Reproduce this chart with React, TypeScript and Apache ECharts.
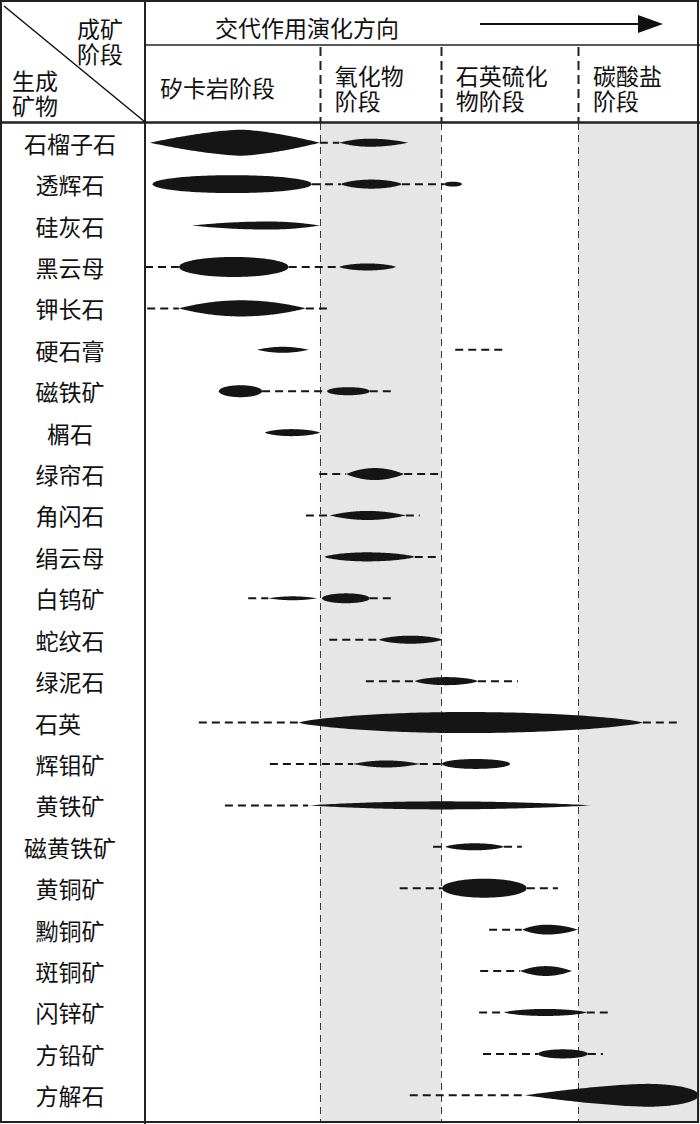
import React, { useEffect, useRef } from "react";
import * as echarts from "echarts";

// ---------- data ----------
const MINERALS = [
  "石榴子石", "透辉石", "硅灰石", "黑云母", "钾长石", "硬石膏", "磁铁矿", "榍石",
  "绿帘石", "角闪石", "绢云母", "白钨矿", "蛇纹石", "绿泥石", "石英", "辉钼矿",
  "黄铁矿", "磁黄铁矿", "黄铜矿", "黝铜矿", "斑铜矿", "闪锌矿", "方铅矿", "方解石",
];

const TITLE = "交代作用演化方向";
const CORNER_TOP = "成矿\n阶段";
const CORNER_BOTTOM = "生成\n矿物";

// stages along the evolution axis (0..100)
const STAGE_NAMES = ["矽卡岩阶段", "氧化物\n阶段", "石英硫化\n物阶段", "碳酸盐\n阶段"];
const STAGE_STARTS = [0, 31.5, 53.3, 78.0];
const STAGE_BOUNDS = [31.5, 53.3, 78.0];
const SHADED_STAGES = [[31.5, 53.3], [78.0, 100]];

// main occurrence lenses: [row, start, end, peak, abundance(0-10), leftShape, rightShape]
const LENSES: [number, number, number, number, number, string, string][] = [
  [0, 0.9, 31.5, 17.3, 10, "d", "d"],
  [0, 35.0, 47.4, 40.5, 3.1, "l", "l"],
  [1, 1.3, 30.1, 15.7, 6.9, "e", "e"],
  [1, 35.3, 46.3, 40.8, 3.5, "p", "p"],
  [1, 53.9, 57.1, 55.5, 1.9, "e", "e"],
  [2, 8.5, 31.5, 22.3, 3.1, "l", "l"],
  [3, 6.1, 25.9, 16.0, 7.7, "e", "e"],
  [3, 35.0, 45.2, 40.1, 2.7, "p", "p"],
  [4, 6.1, 29.0, 17.3, 6.2, "l", "l"],
  [5, 20.2, 29.5, 24.8, 2.3, "l", "l"],
  [6, 13.3, 21.1, 17.2, 4.6, "e", "e"],
  [6, 32.8, 40.5, 36.6, 3.1, "e", "e"],
  [7, 21.6, 31.5, 26.3, 2.7, "p", "p"],
  [8, 36.2, 46.7, 41.4, 4.6, "l", "l"],
  [9, 33.3, 47.0, 40.1, 3.5, "l", "l"],
  [10, 32.3, 48.6, 40.0, 3.5, "p", "p"],
  [11, 22.2, 31.0, 26.6, 1.5, "l", "l"],
  [11, 31.9, 40.5, 36.2, 3.8, "e", "e"],
  [12, 42.2, 53.5, 47.8, 3.1, "p", "p"],
  [13, 48.6, 60.0, 54.3, 3.1, "p", "p"],
  [14, 27.7, 89.7, 57.7, 8.1, "p", "p"],
  [15, 37.5, 49.5, 43.5, 2.7, "l", "l"],
  [15, 53.5, 65.8, 59.6, 3.8, "e", "e"],
  [16, 29.4, 80.5, 53.3, 3.1, "l", "l"],
  [17, 54.1, 64.7, 59.4, 2.7, "p", "p"],
  [18, 53.5, 68.8, 61.1, 7.3, "e", "e"],
  [19, 67.9, 78.0, 72.4, 3.8, "l", "l"],
  [20, 67.6, 76.9, 72.2, 3.8, "l", "l"],
  [21, 64.7, 79.6, 72.1, 2.7, "p", "p"],
  [22, 70.8, 79.8, 75.3, 3.5, "e", "e"],
  [23, 68.5, 99.8, 90.5, 8.8, "d", "e"],
];

// minor / uncertain occurrence (dashed): [row, start, end]
const TRACES: [number, number, number][] = [
  [0, 31.5, 35.0],
  [1, 30.1, 35.3], [1, 46.3, 53.9],
  [3, 0, 6.1], [3, 25.9, 35.0],
  [4, 0.4, 6.1], [4, 29.0, 33.3],
  [5, 55.9, 64.7],
  [6, 21.1, 32.8], [6, 40.5, 44.7],
  [8, 31.4, 36.2], [8, 46.7, 53.2],
  [9, 29.0, 33.3], [9, 47.0, 49.5],
  [10, 48.6, 53.2],
  [11, 18.6, 22.2], [11, 40.5, 45.0],
  [12, 33.2, 42.2],
  [13, 39.8, 48.6], [13, 60.0, 67.2],
  [14, 9.7, 27.7], [14, 89.7, 96.6],
  [15, 22.5, 37.5], [15, 49.5, 53.5],
  [16, 14.4, 29.4],
  [17, 51.9, 54.1], [17, 64.7, 67.9],
  [18, 45.9, 53.5], [18, 68.8, 74.4],
  [19, 62.0, 67.9],
  [20, 60.4, 67.6],
  [21, 60.2, 64.7], [21, 79.6, 83.6],
  [22, 60.9, 70.8], [22, 79.8, 82.5],
  [23, 47.7, 68.5],
];

// ---------- component ----------
export default function App() {
  const ref = useRef<HTMLDivElement>(null);

  useEffect(() => {
    document.body.style.margin = "0";
    const chart = echarts.init(ref.current!, null, { renderer: "svg" });
    const FONT = '"Noto Sans CJK SC", "Noto Sans", sans-serif';
    const FS = 23;
    const LH = 25;
    const INK = "#151515";
    const PX_PER_ABUNDANCE = 2.6;
    const SHAPES: Record<string, [number, number]> = {
      e: [2, 0.5],
      p: [2, 0.75],
      l: [2, 1],
      d: [1.5, 1],
    };

    const lensData = LENSES.map(([r, s, e, p, a, sl, sr]) => [
      r, s, e, p, a, SHAPES[sl][0], SHAPES[sl][1], SHAPES[sr][0], SHAPES[sr][1],
    ]);

    const hiddenY = (gi: number) => ({ type: "value", gridIndex: gi, min: 0, max: 1, show: false });

    const option: any = {
      animation: false,
      backgroundColor: "#ffffff",
      grid: [
        { left: 145, right: 0, top: 123, bottom: 1 },
        { left: 145, right: 0, top: 122, bottom: 8 },
        { left: 145, right: 0, top: 45, height: 77 },
      ],
      xAxis: [0, 1, 2].map((i) => ({ type: "value", gridIndex: i, min: 0, max: 100, show: false })),
      yAxis: [
        hiddenY(0),
        {
          type: "category",
          gridIndex: 1,
          data: MINERALS,
          inverse: true,
          axisLine: { show: false },
          axisTick: { show: false },
          splitLine: { show: false },
          axisLabel: {
            margin: 75,
            align: "center",
            fontSize: FS,
            fontFamily: FONT,
            color: "#111",
            formatter: (v: string) => (v === "石英" ? `{w|${v}}` : v),
            rich: { w: { fontSize: FS, fontFamily: FONT, color: "#111", padding: [0, 24, 0, 0] } },
          },
        },
        hiddenY(2),
      ],
      series: [
        {
          type: "custom",
          xAxisIndex: 0,
          yAxisIndex: 0,
          z: 1,
          data: SHADED_STAGES.map(([a, b]) => [a, b, 0.5]),
          encode: { x: [0, 1], y: 2 },
          renderItem: (params: any, api: any) => {
            const cs = params.coordSys;
            const a = api.coord([api.value(0), 0.5])[0];
            const b = api.coord([api.value(1), 0.5])[0];
            return {
              type: "rect",
              shape: { x: a, y: cs.y, width: b - a, height: cs.height },
              style: { fill: "#e6e6e6" },
            };
          },
        },
        {
          type: "custom",
          xAxisIndex: 0,
          yAxisIndex: 0,
          z: 2,
          data: STAGE_BOUNDS.map((b) => [b, 0.5]),
          encode: { x: 0, y: 1 },
          renderItem: (params: any, api: any) => {
            const cs = params.coordSys;
            const x = Math.round(api.coord([api.value(0), 0.5])[0]) + 0.5;
            return {
              type: "line",
              shape: { x1: x, y1: cs.y, x2: x, y2: cs.y + cs.height },
              style: { stroke: "#3a3a3a", lineWidth: 1, lineDash: [7, 5] },
            };
          },
        },
        {
          type: "custom",
          xAxisIndex: 1,
          yAxisIndex: 1,
          z: 3,
          data: TRACES,
          encode: { y: 0, x: [1, 2] },
          renderItem: (params: any, api: any) => {
            const p1 = api.coord([api.value(1), api.value(0)]);
            const p2 = api.coord([api.value(2), api.value(0)]);
            return {
              type: "line",
              shape: { x1: p1[0], y1: p1[1], x2: p2[0], y2: p2[1] },
              style: { stroke: INK, lineWidth: 2, lineDash: [8, 5] },
            };
          },
        },
        {
          type: "custom",
          xAxisIndex: 1,
          yAxisIndex: 1,
          z: 4,
          data: lensData,
          encode: { y: 0, x: [1, 2, 3] },
          renderItem: (params: any, api: any) => {
            const row = api.value(0);
            const pL = api.coord([api.value(1), row]);
            const pR = api.coord([api.value(2), row]);
            const pP = api.coord([api.value(3), row]);
            const h = (api.value(4) * PX_PER_ABUNDANCE) / 2;
            const nL = api.value(5), aL = api.value(6), nR = api.value(7), aR = api.value(8);
            const cy = pL[1];
            const N = 40;
            const top: number[][] = [];
            const bot: number[][] = [];
            for (let i = 0; i <= N; i++) {
              const u = i / N;
              const x = pL[0] + (pP[0] - pL[0]) * u;
              const hh = h * Math.pow(Math.max(0, 1 - Math.pow(1 - u, nL)), aL);
              top.push([x, cy - hh]);
              bot.push([x, cy + hh]);
            }
            for (let i = 1; i <= N; i++) {
              const t = i / N;
              const u = 1 - t;
              const x = pP[0] + (pR[0] - pP[0]) * t;
              const hh = h * Math.pow(Math.max(0, 1 - Math.pow(1 - u, nR)), aR);
              top.push([x, cy - hh]);
              bot.push([x, cy + hh]);
            }
            const points = top.concat(bot.reverse());
            return { type: "polygon", shape: { points }, style: { fill: INK } };
          },
        },
        {
          type: "custom",
          xAxisIndex: 2,
          yAxisIndex: 2,
          z: 2,
          data: STAGE_BOUNDS.map((b) => [b, 0.5]),
          encode: { x: 0, y: 1 },
          renderItem: (params: any, api: any) => {
            const cs = params.coordSys;
            const x = Math.round(api.coord([api.value(0), 0.5])[0]) + 0.5;
            return {
              type: "line",
              shape: { x1: x, y1: cs.y + 2, x2: x, y2: cs.y + cs.height },
              style: { stroke: "#222", lineWidth: 2, lineDash: [9, 5] },
            };
          },
        },
        {
          type: "custom",
          xAxisIndex: 2,
          yAxisIndex: 2,
          z: 3,
          data: STAGE_STARTS.map((s, i) => [s, 0.5, i]),
          encode: { x: 0, y: 1 },
          renderItem: (params: any, api: any) => {
            const cs = params.coordSys;
            const x = api.coord([api.value(0), 0.5])[0] + 15;
            return {
              type: "text",
              x,
              y: cs.y + 42,
              style: {
                text: STAGE_NAMES[api.value(2)],
                fontSize: FS,
                fontFamily: FONT,
                fill: "#111",
                align: "left",
                verticalAlign: "middle",
                lineHeight: LH,
              },
            };
          },
        },
      ],
      graphic: [
        {
          type: "rect",
          z: 100,
          shape: { x: 1, y: 1, width: 697, height: 1121 },
          style: { fill: "none", stroke: "#222", lineWidth: 2 },
        },
        { type: "line", z: 100, shape: { x1: 145, y1: 0, x2: 145, y2: 1124 }, style: { stroke: "#222", lineWidth: 2 } },
        { type: "line", z: 100, shape: { x1: 145, y1: 45, x2: 700, y2: 45 }, style: { stroke: "#222", lineWidth: 1.5 } },
        { type: "line", z: 100, shape: { x1: 0, y1: 122.5, x2: 700, y2: 122.5 }, style: { stroke: "#222", lineWidth: 2.5 } },
        { type: "line", z: 100, shape: { x1: 4, y1: 6, x2: 145, y2: 122 }, style: { stroke: "#111", lineWidth: 1.5 } },
        {
          type: "text",
          z: 100,
          x: 77,
          y: 40,
          style: { text: CORNER_TOP, fontSize: FS, fontFamily: FONT, fill: "#111", verticalAlign: "middle", lineHeight: LH },
        },
        {
          type: "text",
          z: 100,
          x: 12,
          y: 92,
          style: { text: CORNER_BOTTOM, fontSize: FS, fontFamily: FONT, fill: "#111", verticalAlign: "middle", lineHeight: LH },
        },
        {
          type: "text",
          z: 100,
          x: 307,
          y: 27,
          style: { text: TITLE, fontSize: FS, fontFamily: FONT, fill: "#111", align: "center", verticalAlign: "middle" },
        },
        { type: "line", z: 100, shape: { x1: 480, y1: 24, x2: 645, y2: 24 }, style: { stroke: "#111", lineWidth: 2 } },
        {
          type: "polygon",
          z: 100,
          shape: { points: [[638, 15], [663, 24], [638, 33]] },
          style: { fill: "#111" },
        },
      ],
    };

    chart.setOption(option);
    return () => chart.dispose();
  }, []);

  return <div ref={ref} style={{ width: 700, height: 1124 }} />;
}
